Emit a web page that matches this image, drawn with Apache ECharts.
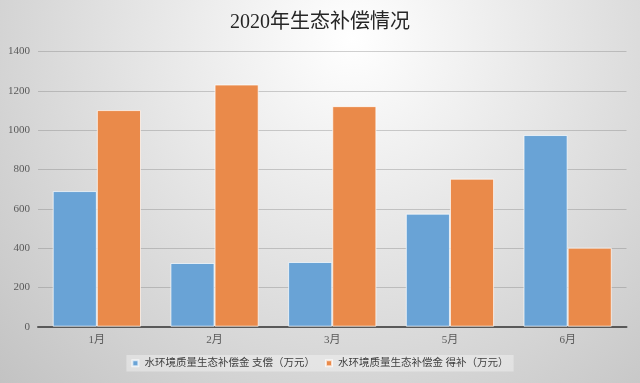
<!DOCTYPE html>
<html>
<head>
<meta charset="utf-8">
<script src="https://cdn.jsdelivr.net/npm/echarts@6/dist/echarts.min.js"></script>
<style>html,body{margin:0;padding:0;}#c{width:640px;height:383px;}</style>
</head>
<body>
<div id="c"></div>
<script>
var titleText = '2020年生态补偿情况';
var categories = ['1月', '2月', '3月', '5月', '6月'];
var seriesNames = ['水环境质量生态补偿金 支偿（万元）', '水环境质量生态补偿金 得补（万元）'];
var paidValues = [690, 324, 329, 575, 975];
var receivedValues = [1102, 1232, 1122, 753, 402];
var yTicks = { min: 0, max: 1400, interval: 200 };

var fontFam = "'Liberation Serif','DejaVu Serif','Noto Sans CJK SC',serif";
var chart = echarts.init(document.getElementById('c'), null, { renderer: 'canvas' });
chart.setOption({
  animation: false,
  backgroundColor: {
    type: 'radial', x: 0.55, y: 0.1, r: 1.3,
    colorStops: [{ offset: 0, color: '#ffffff' }, { offset: 1, color: '#c2c2c2' }]
  },
  title: {
    text: titleText, left: 'center', top: 8,
    textStyle: { fontFamily: fontFam, fontSize: 20, fontWeight: 'normal', color: '#262626' }
  },
  legend: {
    data: seriesNames,
    top: 355, left: 'center',
    itemWidth: 6, itemHeight: 6, itemGap: 10,
    padding: [3, 5],
    backgroundColor: 'rgba(255,255,255,0.35)',
    icon: 'rect',
    textStyle: { fontFamily: fontFam, fontSize: 10.5, color: '#404040', padding: [0, 0, 0, 1] }
  },
  grid: { left: 38, right: 13.5, top: 51.5, bottom: 56.3, containLabel: false },
  xAxis: {
    type: 'category', data: categories,
    axisLine: { lineStyle: { color: '#595959', width: 2 } },
    axisTick: { show: false },
    axisLabel: { fontFamily: fontFam, fontSize: 11, color: '#595959', margin: 8 }
  },
  yAxis: {
    type: 'value', min: yTicks.min, max: yTicks.max, interval: yTicks.interval,
    axisLine: { show: false }, axisTick: { show: false },
    axisLabel: { fontFamily: fontFam, fontSize: 11, color: '#595959', margin: 8,
      formatter: function (v) { return String(v); } },
    splitLine: { lineStyle: { color: 'rgba(120,120,120,0.35)', width: 1 } }
  },
  series: [
    {
      name: seriesNames[0], type: 'bar', data: paidValues,
      barGap: '0%', barCategoryGap: '25%',
      itemStyle: { color: '#69a3d6', borderColor: 'rgba(255,255,255,0.7)', borderWidth: 1 }
    },
    {
      name: seriesNames[1], type: 'bar', data: receivedValues,
      barGap: '0%', barCategoryGap: '25%',
      itemStyle: { color: '#ea8a4a', borderColor: 'rgba(255,255,255,0.7)', borderWidth: 1 }
    }
  ]
});
</script>
</body>
</html>
